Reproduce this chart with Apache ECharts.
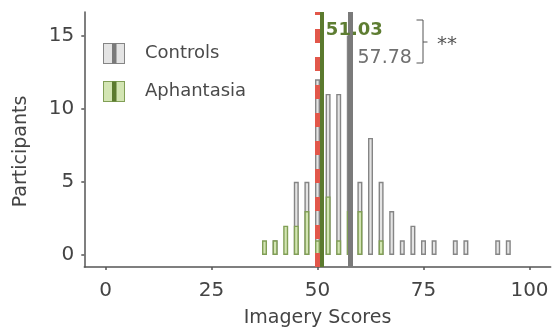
<!DOCTYPE html>
<html>
<head>
<meta charset="utf-8">
<script src="https://cdn.jsdelivr.net/npm/echarts@6/dist/echarts.min.js"></script>
<style>
html,body{margin:0;padding:0;background:#fff;}
#chart{width:552px;height:331px;}
</style>
</head>
<body>
<div id="chart"></div>
<script>
// Histogram bin centres (Imagery Scores)
const bins       = [37.5, 40, 42.5, 45, 47.5, 50, 52.5, 55, 57.5, 60, 62.5, 65, 67.5, 70, 72.5, 75, 77.5, 80, 82.5, 85, 87.5, 90, 92.5, 95];
const controls   = [0,    1,  0,    5,  5,    12, 11,   11, 15,   5,  8,    5,  3,    1,  2,    1,  1,    0,  1,    1,  0,    0,  1,    1];
const aphantasia = [1,    1,  2,    2,  3,    1,  4,    1,  3,    3,  0,    1,  0,    0,  0,    0,  0,    0,  0,    0,  0,    0,  0,    0];
const meanControls = 57.78;
const meanAphantasia = 51.03;
const cutoff = 50;
const xTicks = [0, 25, 50, 75, 100];
const yTicks = [0, 5, 10, 15];
const seriesNames = ['Controls', 'Aphantasia'];

const FONT = 'DejaVu Sans';
const grayFill = '#e4e4e4', grayBorder = '#858585', grayLine = '#7a7a7a';
const greenFill = '#d3e5b3', greenBorder = '#819f56', greenLine = '#5b7a2e';
const redLine = '#e2574a';
const X_MIN = -5, X_MAX = 105;

function icon(fill, stroke, stripe) {
  const svg = '<svg xmlns="http://www.w3.org/2000/svg" width="22" height="21">' +
    '<rect x="0.5" y="0.5" width="21" height="20" fill="' + fill + '" stroke="' + stroke + '" stroke-width="1"/>' +
    '<rect x="9" y="0.5" width="4.5" height="20" fill="' + stripe + '"/></svg>';
  return 'image://data:image/svg+xml;charset=utf-8,' + encodeURIComponent(svg);
}
// empty bins draw nothing
const toData = (arr) => bins.map((b, i) => [b, arr[i] > 0 ? arr[i] : null]);

const chart = echarts.init(document.getElementById('chart'), null, {renderer: 'canvas'});

const option = {
  animation: false,
  backgroundColor: '#fff',
  grid: {left: 84.3, right: 1.3, top: 12, bottom: 64, containLabel: false, outerBoundsMode: 'none'},
  legend: {
    left: 103, top: 43, orient: 'vertical', padding: 0,
    itemWidth: 22, itemHeight: 21, itemGap: 17,
    textStyle: {fontFamily: FONT, fontSize: 18, color: '#4a4a4a', padding: [0, 0, 0, 15]},
    data: [
      {name: seriesNames[0], icon: icon(grayFill, grayBorder, grayLine)},
      {name: seriesNames[1], icon: icon(greenFill, greenBorder, greenLine)}
    ]
  },
  xAxis: [{
    type: 'value', min: X_MIN, max: X_MAX,
    name: 'Imagery Scores', nameLocation: 'middle', nameGap: 42,
    nameTextStyle: {fontFamily: FONT, fontSize: 19, color: '#444'},
    axisLine: {show: true, onZero: false, lineStyle: {color: '#555', width: 1.5}},
    axisTick: {show: true, length: 3, customValues: xTicks, lineStyle: {color: '#555', width: 1.5}},
    axisLabel: {customValues: xTicks, fontFamily: FONT, fontSize: 20, color: '#444', margin: 14},
    splitLine: {show: false}
  }, {
    type: 'value', min: X_MIN, max: X_MAX, position: 'bottom', show: false,
    axisLine: {onZero: false},
    splitLine: {show: false}
  }],
  yAxis: {
    type: 'value', min: -0.82, max: 16.6,
    name: 'Participants', nameLocation: 'middle', nameGap: 54,
    nameTextStyle: {fontFamily: FONT, fontSize: 19, color: '#444', padding: [0, 24, 0, 0]},
    axisLine: {show: true, onZero: false, lineStyle: {color: '#555', width: 1.5}},
    axisTick: {show: true, length: 3, customValues: yTicks, lineStyle: {color: '#555', width: 1.5}},
    axisLabel: {customValues: yTicks, fontFamily: FONT, fontSize: 20, color: '#444', margin: 10},
    splitLine: {show: false}
  },
  series: [
    {
      name: seriesNames[0], type: 'bar', barWidth: 5, xAxisIndex: 0,
      data: toData(controls),
      itemStyle: {color: grayFill, borderColor: grayBorder, borderWidth: 1.4},
      z: 2
    },
    {
      name: seriesNames[1], type: 'bar', barWidth: 5, xAxisIndex: 1,
      data: toData(aphantasia),
      itemStyle: {color: greenFill, borderColor: greenBorder, borderWidth: 1.4},
      z: 3
    },
    {
      type: 'line', data: [], z: 5, silent: true, xAxisIndex: 0,
      markLine: {
        silent: true, symbol: ['none', 'none'], animation: false,
        label: {show: false},
        data: [
          {xAxis: cutoff, lineStyle: {color: redLine, width: 5, type: [14, 14]}},
          {xAxis: meanAphantasia, lineStyle: {color: greenLine, width: 4, type: 'solid'}},
          {xAxis: meanControls, lineStyle: {color: grayLine, width: 5, type: 'solid'}}
        ]
      }
    }
  ]
};
chart.setOption(option);

// annotations positioned through the chart's own scale
const pA = chart.convertToPixel({gridIndex: 0}, [meanAphantasia, 0]);
const pC = chart.convertToPixel({gridIndex: 0}, [meanControls, 0]);
const bx = 423;
chart.setOption({
  graphic: [
    {type: 'text', x: pA[0] + 4, y: 30.5, z: 10,
      style: {text: meanAphantasia.toFixed(2), fontFamily: FONT, fontSize: 18, fontWeight: 'bold', fill: '#5e7d32', verticalAlign: 'middle'}},
    {type: 'text', x: pC[0] + 7, y: 57.7, z: 10,
      style: {text: meanControls.toFixed(2), fontFamily: FONT, fontSize: 19, fill: '#707070', verticalAlign: 'middle'}},
    {type: 'polyline', z: 10, shape: {points: [[bx - 6.5, 20], [bx, 20], [bx, 63], [bx - 6.5, 63]]},
      style: {stroke: '#555', lineWidth: 1, fill: null}},
    {type: 'line', z: 10, shape: {x1: bx, y1: 42, x2: bx + 4.5, y2: 42}, style: {stroke: '#555', lineWidth: 1}},
    {type: 'text', x: 437, y: 45, z: 10,
      style: {text: '**', fontFamily: FONT, fontSize: 20, fill: '#555', verticalAlign: 'middle'}}
  ]
});
</script>
</body>
</html>
